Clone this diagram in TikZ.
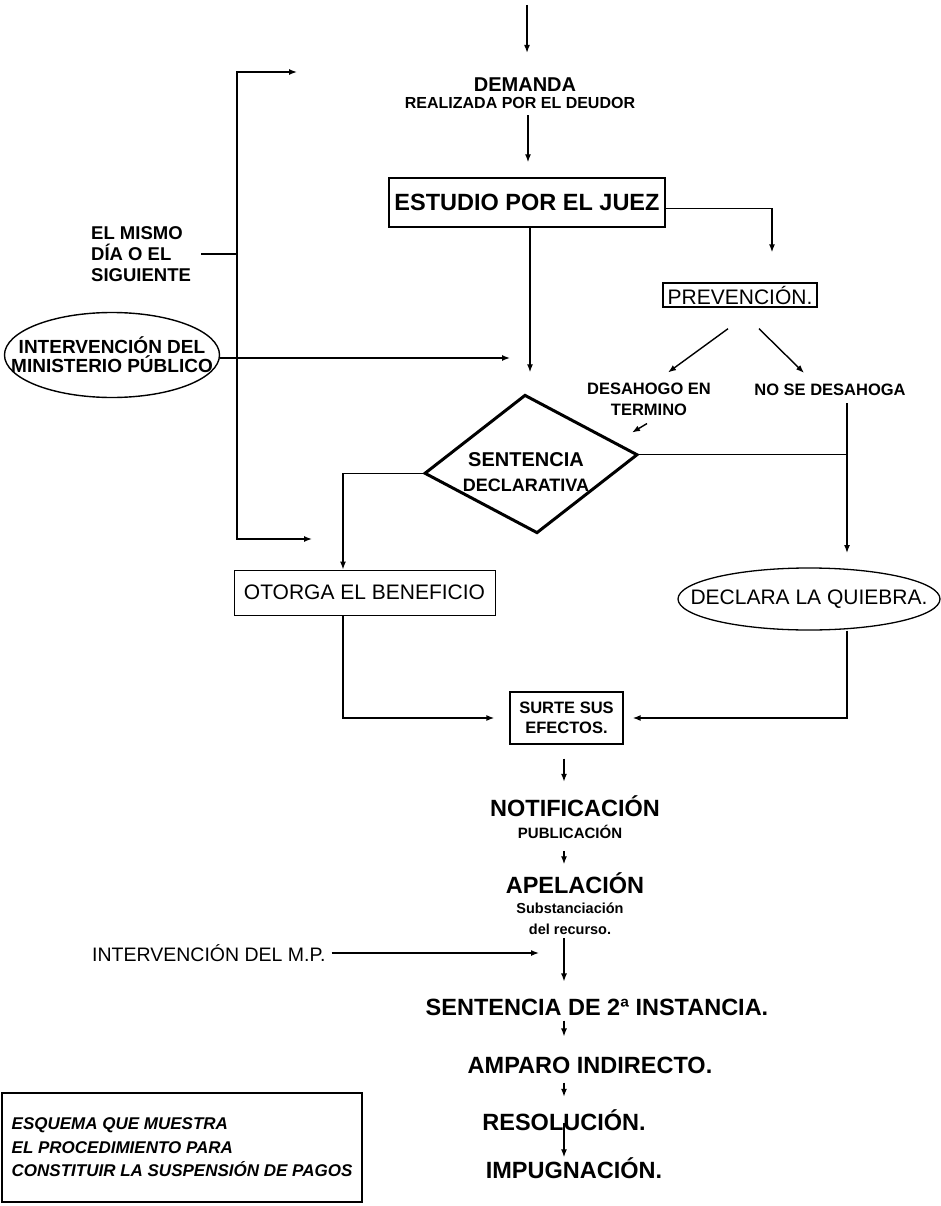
\documentclass[tikz,border=0pt]{standalone}
\usepackage{fontspec}
\setmainfont{Liberation Sans}
\usetikzlibrary{arrows.meta,shapes.geometric}

\begin{document}
\begin{tikzpicture}[x=1pt, y=-1pt,
        linea/.style={line width=1.4pt},
        flecha/.style={linea, -{Latex[length=8pt,width=6pt]}},
        caja/.style={draw, line width=1.4pt, inner sep=2pt},
        titulo/.style={font=\fontsize{23.5}{27}\selectfont\bfseries, inner sep=0pt},
        nota/.style={font=\fontsize{16.5}{21}\selectfont\bfseries, inner sep=0pt, align=center}]
            \useasboundingbox (0,0) rectangle (941,1206);

            % parte superior
            \coordinate (inicio) at (527,5);
            \node[inner sep=0pt, font=\fontsize{20}{24}\selectfont\bfseries] (demanda) at (525,85) {DEMANDA};
            \node[inner sep=0pt, font=\fontsize{16}{18}\selectfont\bfseries] (realiz) at (520,103) {REALIZADA POR EL DEUDOR};
            \node[caja, minimum width=276pt, minimum height=49pt, font=\fontsize{23.5}{28}\selectfont\bfseries] (estudio) at (527,202.5) {ESTUDIO POR EL JUEZ};
            \node[caja, inner sep=1pt, minimum width=154pt, minimum height=24pt, font=\fontsize{21}{24}\selectfont] (prev) at (740,295) {PREVENCIÓN.};
            \node[nota] (desah) at (649,399) {DESAHOGO EN\\TERMINO};
            \node[nota] (nosedes) at (830,390) {NO SE DESAHOGA};

            \draw[flecha, shorten >=25pt] (inicio) -- (inicio |- demanda.north);
            \draw[flecha, shorten <=6.5pt, shorten >=15pt] ([xshift=8pt]realiz.south) -- ([xshift=1pt]estudio.north);
            \draw[flecha, shorten >=30pt] ([yshift=-6pt]estudio.east) -| ([xshift=32pt]prev.north);
            \draw[flecha] ([shift={(-12,21)}]prev.south) -- ([shift={(19,-10)}]desah.north);
            \draw[flecha] ([shift={(19,21)}]prev.south) -- ([shift={(-26,-11)}]nosedes.north);
            \draw[flecha] ([shift={(-2,8)}]desah.south) -- ([shift={(-17,17)}]desah.south);

            % lado izquierdo
            \coordinate (ganchoA) at (297,72);
            \coordinate (ganchoB) at (237,72);
            \coordinate (ganchoC) at (237,539);
            \coordinate (ganchoD) at (312,539);
            \draw[linea, {Latex[length=8pt,width=6pt]}-{Latex[length=8pt,width=6pt]}] (ganchoA) -- (ganchoB) -- (ganchoC) -- (ganchoD);
            \node[inner sep=0pt, anchor=west, align=left, font=\fontsize{18.5}{21}\selectfont\bfseries] (mismo) at (91,254) {EL MISMO\\DÍA O EL\\SIGUIENTE};
            \draw[linea, shorten <=10pt] (mismo.east) -- (mismo.east -| ganchoB);
            \node[draw, ellipse, line width=1.4pt, minimum width=215pt, minimum height=85pt, inner xsep=-30pt, inner ysep=-20pt,
                  align=center, font=\fontsize{19}{19}\selectfont\bfseries] (mp) at (112,355) {INTERVENCIÓN DEL\\MINISTERIO PÚBLICO};
            \draw[flecha, shorten >=17pt] ([yshift=-3pt]mp.east) -- ([yshift=-3pt]mp.east -| estudio.south);

            % sentencia declarativa
            \node[draw, diamond, line width=3pt, minimum width=214pt, minimum height=139pt, inner sep=0pt, rotate=5] (sent) at (531,464) {};
            \node[inner sep=0pt, align=center, font=\fontsize{19}{25}\selectfont\bfseries] (senttxt) at (526,472)
                {{\fontsize{20}{25}\selectfont SENTENCIA}\\{\fontsize{18}{25}\selectfont DECLARATIVA}};
            \draw[flecha, shorten >=21pt] ([xshift=3pt]estudio.south) -- ([xshift=3pt]estudio.south |- sent.north);

            \node[draw, line width=0.9pt, inner sep=2pt, minimum width=261pt, minimum height=45pt, font=\fontsize{21}{24}\selectfont] (otorga) at (364.5,592.5) {OTORGA EL BENEFICIO};
            \node[draw, ellipse, line width=1.3pt, minimum width=262pt, minimum height=62pt, inner xsep=-30pt, inner ysep=-15pt,
                  font=\fontsize{21}{24}\selectfont] (quiebra) at (809,599) {DECLARA LA QUIEBRA.};
            \node[draw, line width=1.3pt, inner sep=1pt, minimum width=113pt, minimum height=52pt, align=center,
                  font=\fontsize{16.5}{20}\selectfont\bfseries] (surte) at (566.5,718) {SURTE SUS\\EFECTOS.};
            \coordinate (quiebratop) at (847,553);

            \draw[flecha] (sent.west) -| ([xshift=-21.5pt]otorga.north);
            \draw[linea] (sent.east) -- (sent.east -| quiebratop);
            \draw[flecha, shorten <=7pt] (nosedes.south -| quiebratop) -- (quiebratop);
            \draw[flecha, shorten >=15pt] ([xshift=-21.5pt]otorga.south) |- (surte.west);
            \draw[flecha, shorten >=9pt] (quiebra.south -| quiebratop) |- (surte.east);

            % parte inferior
            \coordinate (eje) at (564,760);
            \node[titulo] (notif) at (575,806) {NOTIFICACIÓN};
            \node[inner sep=0pt, font=\fontsize{15}{18}\selectfont\bfseries] (pub) at (570,832) {PUBLICACIÓN};
            \node[titulo] (apel) at (575,883) {APELACIÓN};
            \node[inner sep=0pt, align=center, font=\fontsize{14.5}{21}\selectfont\bfseries] (subst) at (570,919) {Substanciación\\del recurso.};
            \node[inner sep=0pt, anchor=west, font=\fontsize{19.5}{22}\selectfont] (mp2) at (92,953) {INTERVENCIÓN DEL M.P.};
            \node[titulo] (sent2) at (597,1007) {SENTENCIA DE 2ª INSTANCIA.};
            \node[titulo] (amparo) at (590,1065) {AMPARO INDIRECTO.};
            \node[titulo] (resol) at (564,1120) {RESOLUCIÓN.};
            \node[titulo] (impug) at (574,1168) {IMPUGNACIÓN.};

            \draw[flecha, shorten <=14pt, shorten >=13.5pt] (surte.south -| eje) -- (notif.north -| eje);
            \draw[flecha, shorten <=12pt, shorten >=8pt] (pub.south -| eje) -- (apel.north -| eje);
            \draw[flecha, shorten <=3pt, shorten >=17pt] (subst.south -| eje) -- (sent2.north -| eje);
            \draw[flecha, shorten <=6pt, shorten >=25pt] (mp2.east) -- (mp2.east -| eje);
            \draw[flecha, shorten <=5pt, shorten >=20pt] (sent2.south -| eje) -- (amparo.north -| eje);
            \draw[flecha, shorten <=9pt, shorten >=12.5pt] (amparo.south -| eje) -- (resol.north -| eje);
            \draw[flecha, shorten <=3pt] (resol.center -| eje) -- (impug.north -| eje);

            \node[draw, line width=1.3pt, inner xsep=5pt, minimum width=360pt, minimum height=109pt, align=left,
                  font=\fontsize{17}{23.5}\selectfont\bfseries\itshape] (leyenda) at (182,1147.5)
                {ESQUEMA QUE MUESTRA\\EL PROCEDIMIENTO PARA\\CONSTITUIR LA SUSPENSIÓN DE PAGOS};

        \end{tikzpicture}
\end{document}
